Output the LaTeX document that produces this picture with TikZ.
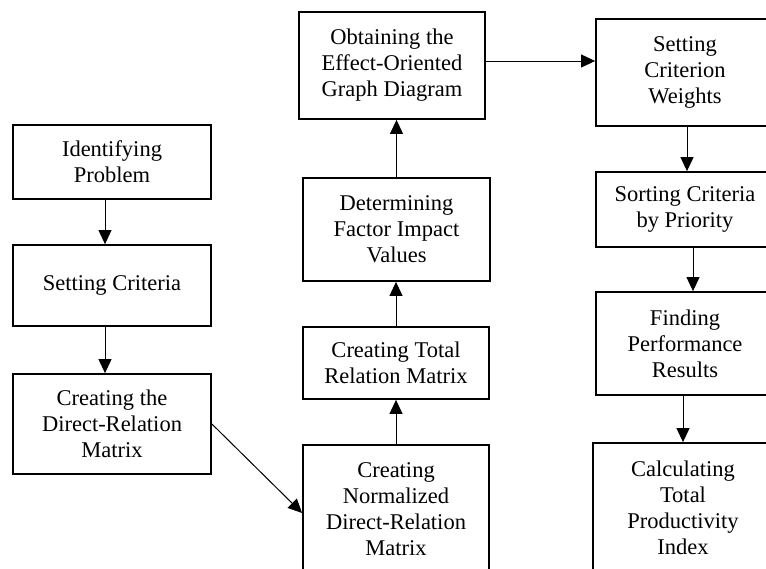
\documentclass[tikz,border=0pt]{standalone}
\usepackage{fontspec}
\setmainfont{Liberation Serif}
\usetikzlibrary{arrows.meta}
\tikzset{
  stepbox/.style={draw=black, line width=1.8pt, align=center, inner sep=0pt,
    font=\fontsize{22.5}{26}\selectfont, fill=white},
  arr/.style={draw=black, line width=1pt, -{Triangle[length=14pt,width=13pt]}}
}
\begin{document}
\begin{tikzpicture}[x=1pt,y=-1pt]
\useasboundingbox (0,0) rectangle (766,568);
\clip (0,0) rectangle (766,568);
% left column
\node[stepbox, minimum width=198pt, minimum height=74pt] (prob) at (112,162) {Identifying\\Problem};
\node[stepbox, minimum width=198pt, minimum height=81pt] (crit) at (112,285.5) {Setting Criteria};
\node[stepbox, minimum width=198pt, minimum height=100pt] (direct) at (112,424) {Creating the\\Direct-Relation\\Matrix};
% middle column
\node[stepbox, minimum width=186pt, minimum height=107pt] (obtain) at (392,65.5) {Obtaining the\\Effect-Oriented\\Graph Diagram};
\node[stepbox, minimum width=187pt, minimum height=103pt] (determ) at (396.5,229.5) {Determining\\Factor Impact\\Values};
\node[stepbox, minimum width=186pt, minimum height=72pt] (total) at (396,363) {Creating Total\\Relation Matrix};
\node[stepbox, minimum width=186pt, minimum height=128pt] (norm) at (396,509) {Creating\\Normalized\\Direct-Relation\\Matrix};
% right column
\node[stepbox, minimum width=178pt, minimum height=107pt] (weights) at (685,72.5) {Setting\\Criterion\\Weights};
\node[stepbox, minimum width=178pt, minimum height=75pt] (sort) at (685,209.5) {Sorting Criteria\\by Priority};
\node[stepbox, minimum width=178pt, minimum height=103pt] (find) at (685,343.5) {Finding\\Performance\\Results};
\node[stepbox, minimum width=180pt, minimum height=129pt] (calc) at (683,507.5) {Calculating\\Total\\Productivity\\Index};
% connectors
\draw[arr] ([xshift=-7pt]prob.south) -- ([xshift=-7pt]crit.north);
\draw[arr] ([xshift=-7pt]crit.south) -- ([xshift=-7pt]direct.north);
\draw[arr] (direct.east) -- ([yshift=-4pt]norm.west);
\draw[arr] (norm.north) -- (total.south);
\draw[arr] (total.north) -- (total.north |- determ.south);
\draw[arr] (determ.north) -- (determ.north |- obtain.south);
\draw[arr] ([yshift=4.5pt]obtain.east) -- ([yshift=4.5pt]obtain.east -| weights.west);
\draw[arr] ([xshift=2pt]weights.south) -- ([xshift=2pt]sort.north);
\draw[arr] ([xshift=8pt]sort.south) -- ([xshift=8pt]find.north);
\draw[arr] ([xshift=-2pt]find.south) -- (calc.north);
\end{tikzpicture}
\end{document}
